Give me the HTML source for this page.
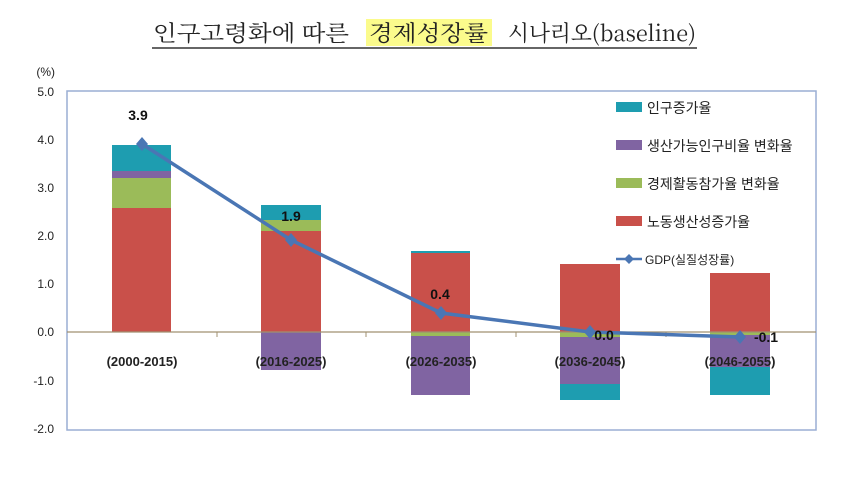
<!DOCTYPE html>
<html><head><meta charset="utf-8"><style>
html,body{margin:0;padding:0;background:#fff;}
svg{display:block;}
</style></head><body>
<svg width="858" height="483" viewBox="0 0 858 483" xmlns="http://www.w3.org/2000/svg">
<rect width="858" height="483" fill="#fff"/>
<!-- title -->
<rect x="366" y="19" width="126" height="27" fill="#fbfb8c"/>
<g font-family="'Noto Serif CJK SC','Liberation Serif',serif" font-size="22" fill="#222">
<text x="153" y="41" textLength="196" lengthAdjust="spacingAndGlyphs">인구고령화에 따른</text>
<text x="369" y="41" textLength="119" lengthAdjust="spacingAndGlyphs">경제성장률</text>
<text x="508" y="41" textLength="188" lengthAdjust="spacingAndGlyphs">시나리오(baseline)</text>
</g>
<line x1="152" y1="48" x2="697" y2="48" stroke="#333" stroke-width="1.5"/>
<!-- plot frame -->
<rect x="67" y="91" width="749" height="339" fill="none" stroke="#9aaed4" stroke-width="1.5"/>
<g font-family="'Liberation Sans',sans-serif" font-size="12" fill="#222" text-anchor="end">
<text x="55" y="76">(%)</text>
<text x="54" y="96">5.0</text>
<text x="54" y="144">4.0</text>
<text x="54" y="192">3.0</text>
<text x="54" y="240">2.0</text>
<text x="54" y="288">1.0</text>
<text x="54" y="336">0.0</text>
<text x="54" y="385">-1.0</text>
<text x="54" y="433">-2.0</text>
</g>
<!-- bar1 -->
<rect x="112" y="208" width="59" height="124" fill="#c9504a"/>
<rect x="112" y="178" width="59" height="30" fill="#9bbb59"/>
<rect x="112" y="171" width="59" height="7" fill="#8064a2"/>
<rect x="112" y="145" width="59" height="26" fill="#1e9db0"/>
<!-- bar2 -->
<rect x="261" y="231" width="60" height="101" fill="#c9504a"/>
<rect x="261" y="220" width="60" height="11" fill="#9bbb59"/>
<rect x="261" y="205" width="60" height="15" fill="#1e9db0"/>
<rect x="261" y="332" width="60" height="38" fill="#8064a2"/>
<!-- bar3 -->
<rect x="411" y="252" width="59" height="80" fill="#c9504a"/>
<rect x="411" y="251" width="59" height="2" fill="#1e9db0"/>
<rect x="411" y="332" width="59" height="4" fill="#9bbb59"/>
<rect x="411" y="336" width="59" height="59" fill="#8064a2"/>
<!-- bar4 -->
<rect x="560" y="264" width="60" height="68" fill="#c9504a"/>
<rect x="560" y="332" width="60" height="5" fill="#9bbb59"/>
<rect x="560" y="337" width="60" height="47" fill="#8064a2"/>
<rect x="560" y="384" width="60" height="16" fill="#1e9db0"/>
<!-- bar5 -->
<rect x="710" y="273" width="60" height="59" fill="#c9504a"/>
<rect x="710" y="332" width="60" height="3" fill="#9bbb59"/>
<rect x="710" y="335" width="60" height="32" fill="#8064a2"/>
<rect x="710" y="367" width="60" height="28" fill="#1e9db0"/>
<!-- zero axis -->
<line x1="67" y1="332" x2="816" y2="332" stroke="#a09070" stroke-width="1.2"/>
<g stroke="#a09070" stroke-width="1">
<line x1="217" y1="332" x2="217" y2="337"/><line x1="366" y1="332" x2="366" y2="337"/>
<line x1="516" y1="332" x2="516" y2="337"/><line x1="666" y1="332" x2="666" y2="337"/>
</g>
<g font-family="'Liberation Sans',sans-serif" font-size="13" font-weight="bold" fill="#222" text-anchor="middle">
<text x="142" y="366">(2000-2015)</text>
<text x="291" y="366">(2016-2025)</text>
<text x="441" y="366">(2026-2035)</text>
<text x="590" y="366">(2036-2045)</text>
<text x="740" y="366">(2046-2055)</text>
</g>
<!-- GDP line -->
<polyline points="142,144 291,240 441,313 590,332 740,337" fill="none" stroke="#4a76b4" stroke-width="3.5"/>
<g fill="#4a76b4">
<path d="M142,137 l6,7 -6,7 -6,-7z"/><path d="M291,233 l6,7 -6,7 -6,-7z"/>
<path d="M441,306 l6,7 -6,7 -6,-7z"/><path d="M590,325 l6,7 -6,7 -6,-7z"/>
<path d="M740,330 l6,7 -6,7 -6,-7z"/>
</g>
<g font-family="'Liberation Sans',sans-serif" font-size="14" font-weight="bold" fill="#111" text-anchor="middle">
<text x="138" y="120">3.9</text>
<text x="291" y="221">1.9</text>
<text x="440" y="299">0.4</text>
<text x="604" y="340">0.0</text>
<text x="766" y="342">-0.1</text>
</g>
<!-- legend -->
<rect x="616" y="102" width="26" height="10" fill="#1e9db0"/>
<rect x="616" y="140" width="26" height="10" fill="#8064a2"/>
<rect x="616" y="178" width="26" height="10" fill="#9bbb59"/>
<rect x="616" y="216" width="26" height="10" fill="#c9504a"/>
<line x1="616" y1="259" x2="642" y2="259" stroke="#4a76b4" stroke-width="2.5"/>
<path d="M629,254 l5,5 -5,5 -5,-5z" fill="#4a76b4"/>
<g font-family="'Liberation Sans','Noto Sans CJK KR',sans-serif" font-size="14" fill="#222">
<text x="647" y="113">인구증가율</text>
<text x="647" y="151">생산가능인구비율 변화율</text>
<text x="647" y="189">경제활동참가율 변화율</text>
<text x="647" y="227">노동생산성증가율</text>
<text x="645" y="264" font-size="12">GDP(실질성장률)</text>
</g>
</svg>
</body></html>
